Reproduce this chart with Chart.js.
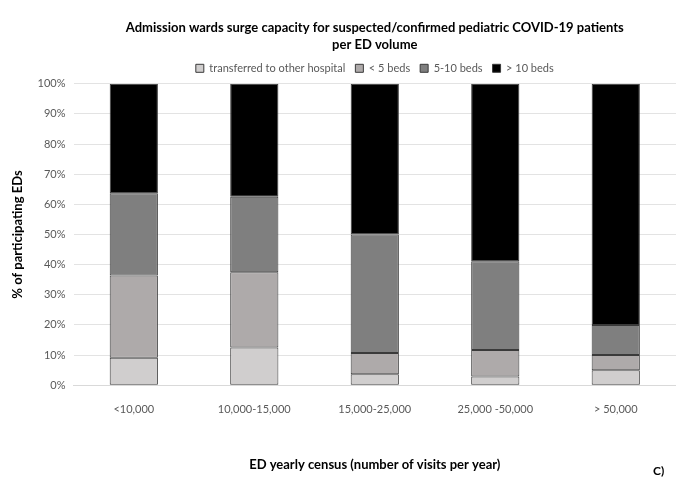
<!DOCTYPE html>
<html>
<head>
<meta charset="utf-8">
<script src="https://cdn.jsdelivr.net/npm/chart.js@4"></script>
<style>
    html, body { margin: 0; padding: 0; background: #fff; }
    #wrap { position: relative; width: 676px; height: 479px; }
    #panel { position: absolute; left: 653px; top: 463px; font: bold 12px Lato, sans-serif; color: #000; }
</style>
</head>
<body>
<div id="wrap">
    <canvas id="chart" width="676" height="479"></canvas>
    <span id="panel">C)</span>
</div>
<script>
// --- Data ---
const categories = ['<10,000', '10,000-15,000', '15,000-25,000', '25,000 -50,000', '> 50,000'];
const transferred = [9.1, 12.5, 3.6, 2.9, 5.0];
const lessThan5 = [27.3, 25.0, 7.1, 8.8, 5.0];
const fiveToTen = [27.3, 25.0, 39.3, 29.4, 10.0];
const moreThan10 = [36.3, 37.5, 50.0, 58.9, 80.0];
const yTicks = [0, 10, 20, 30, 40, 50, 60, 70, 80, 90, 100];

const FONT = 'Lato, sans-serif';

const makeSet = (label, data, color) => ({
    label: label,
    data: data,
    backgroundColor: color,
    borderColor: '#3a3a3a',
    borderWidth: 1,
    borderSkipped: false,
    barPercentage: 0.4,
    categoryPercentage: 1.0,
});

new Chart(document.getElementById('chart').getContext('2d'), {
    type: 'bar',
    data: {
        labels: categories,
        datasets: [
            makeSet('transferred to other hospital', transferred, '#d0cece'),
            makeSet('< 5 beds', lessThan5, '#aeaaaa'),
            makeSet('5-10 beds', fiveToTen, '#7f7f7f'),
            makeSet('> 10 beds', moreThan10, '#000000'),
        ]
    },
    options: {
        responsive: false,
        animation: false,
        layout: { padding: { left: 10, right: 0, top: 0, bottom: 6 } },
        plugins: {
            title: {
                display: true,
                fullSize: false,
                text: ['Admission wards surge capacity for suspected/confirmed pediatric COVID-19 patients', 'per ED volume'],
                color: '#000',
                font: { family: FONT, size: 13, weight: 'bold', lineHeight: 1.3 },
                padding: { top: 19, bottom: 0 }
            },
            legend: {
                position: 'top',
                fullSize: false,
                labels: {
                    color: '#595959',
                    font: { family: FONT, size: 11 },
                    boxWidth: 8,
                    boxHeight: 8,
                    padding: 10
                }
            },
            tooltip: { enabled: false }
        },
        scales: {
            x: {
                stacked: true,
                grid: { display: false },
                border: { color: '#d9d9d9' },
                ticks: { color: '#595959', font: { family: FONT, size: 11 }, padding: 10 },
                title: {
                    display: true,
                    text: 'ED yearly census (number of visits per year)',
                    color: '#000',
                    font: { family: FONT, size: 13, weight: 'bold' },
                    padding: { top: 31, bottom: 0 }
                }
            },
            y: {
                stacked: true,
                min: 0,
                max: 100,
                afterBuildTicks: (axis) => { axis.ticks = yTicks.map(v => ({ value: v })); },
                grid: { color: '#e3e3e3', drawTicks: false },
                border: { display: false },
                ticks: {
                    color: '#595959',
                    font: { family: FONT, size: 11 },
                    padding: 8,
                    callback: (v) => v + '%'
                },
                title: {
                    display: true,
                    text: '% of participating EDs',
                    color: '#000',
                    font: { family: FONT, size: 13, weight: 'bold' },
                    padding: { top: 0, bottom: 4 }
                }
            }
        }
    }
});
</script>
</body>
</html>
